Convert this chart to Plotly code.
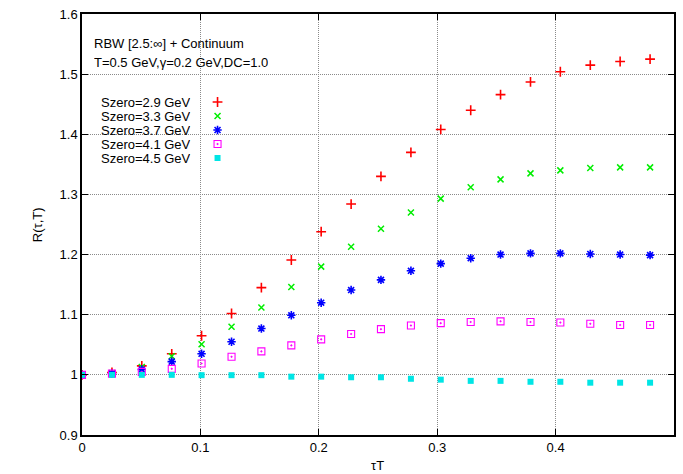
import plotly.graph_objects as go

# ---- data ----
tauT = [0.0, 0.0253, 0.0505, 0.0758, 0.1010, 0.1263, 0.1515, 0.1768, 0.2020, 0.2273,
        0.2525, 0.2778, 0.3030, 0.3283, 0.3535, 0.3788, 0.4040, 0.4293, 0.4545, 0.4798]

r_29 = [1.000, 1.004, 1.015, 1.035, 1.065, 1.102, 1.145, 1.191, 1.238, 1.284,
        1.330, 1.370, 1.408, 1.440, 1.466, 1.487, 1.504, 1.515, 1.521, 1.525]
r_33 = [1.000, 1.003, 1.013, 1.031, 1.051, 1.080, 1.112, 1.146, 1.180, 1.213,
        1.243, 1.270, 1.293, 1.312, 1.325, 1.335, 1.340, 1.344, 1.345, 1.345]
r_37 = [1.000, 1.002, 1.009, 1.022, 1.035, 1.055, 1.077, 1.099, 1.120, 1.141,
        1.158, 1.173, 1.185, 1.194, 1.200, 1.202, 1.202, 1.201, 1.200, 1.199]
r_41 = [1.000, 1.002, 1.005, 1.010, 1.019, 1.030, 1.039, 1.049, 1.059, 1.068,
        1.076, 1.082, 1.086, 1.088, 1.089, 1.088, 1.087, 1.085, 1.083, 1.083]
r_45 = [1.000, 1.000, 1.000, 1.000, 0.9995, 0.9995, 0.9995, 0.997, 0.997, 0.996,
        0.996, 0.9935, 0.992, 0.990, 0.990, 0.9885, 0.9885, 0.987, 0.987, 0.987]

series_names = ["Szero=2.9 GeV", "Szero=3.3 GeV", "Szero=3.7 GeV", "Szero=4.1 GeV", "Szero=4.5 GeV"]
series_values = [r_29, r_33, r_37, r_41, r_45]

x_ticks = [0, 0.1, 0.2, 0.3, 0.4, 0.5]
x_tick_labels = ["0", "0.1", "0.2", "0.3", "0.4", "0.5"]
y_ticks = [0.9, 1.0, 1.1, 1.2, 1.3, 1.4, 1.5, 1.6]
y_tick_labels = ["0.9", "1", "1.1", "1.2", "1.3", "1.4", "1.5", "1.6"]

title_lines = ["RBW [2.5:∞] + Continuum", "T=0.5 GeV,γ=0.2 GeV,DC=1.0"]

# ---- styles ----
colors = ["#ff0000", "#00ee00", "#0000ff", "#ff00ff", "#00e5e5"]
symbols = ["cross-thin", "x-thin", "asterisk", "square-open-dot", "square"]
sizes = [7, 6, 7, 7, 6]
widths = [1.6, 1.5, 1.6, 1.1, 0]
FONT = "Liberation Sans, Arial, sans-serif"

W, H = 683, 474
L, R, T, B = 82, 7, 14, 39
pw, ph = W - L - R, H - T - B

def px_x(p):
    return (p - L) / pw

def px_y(p):
    return (H - B - p) / ph

fig = go.Figure()

for name, vals, c, s, sz, lw in zip(series_names, series_values, colors, symbols, sizes, widths):
    fig.add_trace(go.Scatter(
        x=tauT, y=vals, mode="markers", name=name, showlegend=False,
        marker=dict(symbol=s, size=sz, color=c, line=dict(color=c, width=lw)),
    ))

# key (gnuplot style: text then sample), drawn on a hidden overlay axis
key_rows_px = [102, 116, 130, 144, 158]
for name, c, s, sz, lw, ypx in zip(series_names, colors, symbols, sizes, widths, key_rows_px):
    fig.add_trace(go.Scatter(
        x=[px_x(218)], y=[px_y(ypx)], xaxis="x2", yaxis="y2", mode="markers",
        showlegend=False, hoverinfo="skip",
        marker=dict(symbol=s, size=sz, color=c, line=dict(color=c, width=lw)),
    ))

txt_font = dict(family=FONT, size=13, color="black")
annotations = []
for name, ypx in zip(series_names, key_rows_px):
    annotations.append(dict(text=name, xref="paper", yref="paper", x=px_x(99), y=px_y(ypx),
                            xanchor="left", yanchor="middle", showarrow=False, height=13,
                            font=txt_font))
for line, ypx in zip(title_lines, [43, 62]):
    annotations.append(dict(text=line, xref="paper", yref="paper", x=px_x(92), y=px_y(ypx),
                            xanchor="left", yanchor="middle", showarrow=False, height=15,
                            font=txt_font))
annotations.append(dict(text="R(τ,T)", xref="paper", yref="paper", x=px_x(37), y=px_y(225),
                        xanchor="center", yanchor="middle", textangle=-90, showarrow=False,
                        font=txt_font))
annotations.append(dict(text="τT", xref="paper", yref="paper", x=px_x(378), y=px_y(465),
                        xanchor="center", yanchor="middle", showarrow=False,
                        font=txt_font))

axis_common = dict(
    showgrid=True, gridcolor="#8a8a8a", griddash="1px,1px", gridwidth=1,
    showline=True, linecolor="black", linewidth=1.5, mirror="allticks",
    ticks="inside", ticklen=6, tickcolor="black", tickwidth=1,
    zeroline=False, tickfont=dict(family=FONT, size=13, color="black"),
)

fig.update_layout(
    width=W, height=H,
    margin=dict(l=L, r=R, t=T, b=B),
    paper_bgcolor="white", plot_bgcolor="white",
    xaxis=dict(range=[0, 0.5], tickvals=x_ticks, ticktext=x_tick_labels, **axis_common),
    yaxis=dict(range=[0.9, 1.6], tickvals=y_ticks, ticktext=y_tick_labels, **axis_common),
    xaxis2=dict(range=[0, 1], overlaying="x", visible=False, fixedrange=True),
    yaxis2=dict(range=[0, 1], overlaying="y", visible=False, fixedrange=True),
    annotations=annotations,
    shapes=[dict(type="rect", xref="paper", yref="paper",
                 x0=px_x(L + 1), x1=px_x(245), y0=px_y(164), y1=px_y(96),
                 fillcolor="white", line=dict(width=0), layer="between")],
    showlegend=False,
)

fig.write_html("out.html")
